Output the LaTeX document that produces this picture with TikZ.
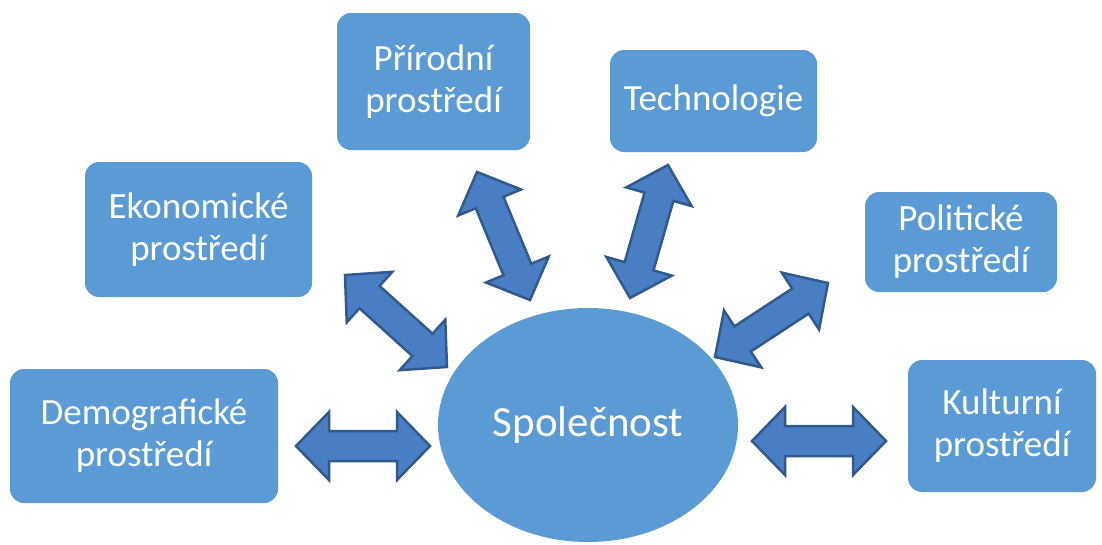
\documentclass[tikz,border=0pt]{standalone}
\usepackage{fontspec}
\setmainfont{Carlito}
\usetikzlibrary{calc,shapes.geometric}
\definecolor{boxblue}{HTML}{5B9BD5}
\definecolor{arrowfill}{HTML}{4A7EC2}
\definecolor{arrowline}{HTML}{305A8E}
% block double arrow between two named points
\newcommand\bah{33pt}% head length
\newcommand\baw{34pt}% head half width
\newcommand\bsw{15pt}% shaft half width
\newcommand\blockarrow[2]{%
  \filldraw[dblblock]
    (#1)
    -- ($(#1)!\bah!(#2)!\baw!90:(#2)$)
    -- ($(#1)!\bah!(#2)!\bsw!90:(#2)$)
    -- ($(#2)!\bah!(#1)!\bsw!-90:(#1)$)
    -- ($(#2)!\bah!(#1)!\baw!-90:(#1)$)
    -- (#2)
    -- ($(#2)!\bah!(#1)!\baw!90:(#1)$)
    -- ($(#2)!\bah!(#1)!\bsw!90:(#1)$)
    -- ($(#1)!\bah!(#2)!\bsw!-90:(#2)$)
    -- ($(#1)!\bah!(#2)!\baw!-90:(#2)$)
    -- cycle;}
\begin{document}
\begin{tikzpicture}[x=1pt,y=-1pt,
  envbox/.style={fill=boxblue, rounded corners=14pt, text=white, align=center,
    inner sep=0pt, font=\fontsize{37}{42}\selectfont},
  core/.style={ellipse, fill=boxblue, text=white, inner sep=0pt,
    minimum width=300pt, minimum height=234pt, font=\fontsize{43}{50}\selectfont},
  dblblock/.style={fill=arrowfill, draw=arrowline, line width=2.5pt, line join=miter}]
\fill[white] (0,0) rectangle (1102,544);
\useasboundingbox (0,0) rectangle (1102,544);

% environment boxes
\node[envbox, minimum width=268pt, minimum height=134pt] (dem) at (144,436) {Demografické\\prostředí};
\node[envbox, minimum width=227pt, minimum height=135pt] (eko) at (198.5,229.5) {Ekonomické\\prostředí};
\node[envbox, minimum width=193pt, minimum height=137pt] (pri) at (433.5,81.5) {Přírodní\\prostředí};
\node[envbox, minimum width=207pt, minimum height=102pt] (tech) at (713.5,101) {Technologie};
\node[envbox, minimum width=192pt, minimum height=100pt] (pol) at (961,242) {Politické\\prostředí};
\node[envbox, minimum width=188pt, minimum height=132pt] (kul) at (1002,426) {Kulturní\\prostředí};

% society in the centre
\node[core] (spol) at (588,425) {Společnost};

% arrow ends
\coordinate (demA) at (296,446);  \coordinate (demB) at (430,446);
\coordinate (kulA) at (752,441);  \coordinate (kulB) at (886,441);
\coordinate (ekoA) at (345,275);  \coordinate (ekoB) at (447,367);
\coordinate (priA) at (477,172);  \coordinate (priB) at (530,300);
\coordinate (techA) at (668,165); \coordinate (techB) at (630,298);
\coordinate (polA) at (828,283);  \coordinate (polB) at (715,357);

\blockarrow{demA}{demB}
\blockarrow{kulA}{kulB}
\blockarrow{ekoA}{ekoB}
\blockarrow{priA}{priB}
\blockarrow{techA}{techB}
\blockarrow{polA}{polB}
\end{tikzpicture}
\end{document}
